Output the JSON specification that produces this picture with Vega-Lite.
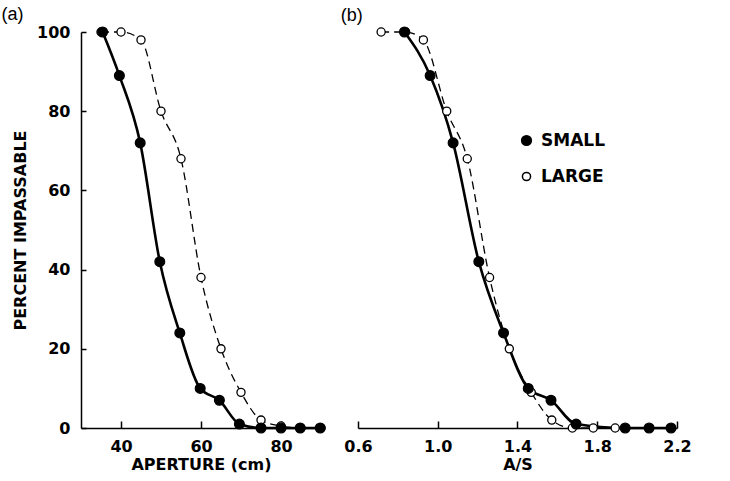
{
  "$schema": "https://vega.github.io/schema/vega-lite/v6.json",
  "background": "white",
  "padding": {"left": 1, "top": 6, "right": 5, "bottom": 5},
  "config": {
    "view": {"stroke": null},
    "font": "DejaVu Sans",
    "axis": {
      "domainColor": "black", "domainWidth": 1.5,
      "tickColor": "black", "tickWidth": 1.5, "tickSize": 6,
      "labelColor": "black", "labelFontSize": 16, "labelFont": "DejaVu Sans", "labelFontWeight": "bold",
      "titleFont": "DejaVu Sans", "titleFontSize": 16, "titleFontWeight": "bold", "titleColor": "black",
      "grid": false, "labelPadding": 10, "labelFlush": false
    },
    "title": {"font": "Liberation Sans", "fontSize": 18, "fontWeight": "normal", "anchor": "start", "color": "black"}
  },
  "datasets": {
    "a": [
      {"aperture": 35, "pct": 100, "size": "LARGE"},
      {"aperture": 40, "pct": 100, "size": "LARGE"},
      {"aperture": 45, "pct": 98, "size": "LARGE"},
      {"aperture": 50, "pct": 80, "size": "LARGE"},
      {"aperture": 55, "pct": 68, "size": "LARGE"},
      {"aperture": 60, "pct": 38, "size": "LARGE"},
      {"aperture": 65, "pct": 20, "size": "LARGE"},
      {"aperture": 70, "pct": 9, "size": "LARGE"},
      {"aperture": 75, "pct": 2, "size": "LARGE"},
      {"aperture": 80, "pct": 0.5, "size": "LARGE"},
      {"aperture": 85, "pct": 0, "size": "LARGE"},
      {"aperture": 90, "pct": 0, "size": "LARGE"},
      {"aperture": 35.4, "pct": 100, "size": "SMALL"},
      {"aperture": 39.6, "pct": 89, "size": "SMALL"},
      {"aperture": 44.8, "pct": 72, "size": "SMALL"},
      {"aperture": 49.7, "pct": 42, "size": "SMALL"},
      {"aperture": 54.7, "pct": 24, "size": "SMALL"},
      {"aperture": 59.8, "pct": 10, "size": "SMALL"},
      {"aperture": 64.6, "pct": 7, "size": "SMALL"},
      {"aperture": 69.6, "pct": 1, "size": "SMALL"},
      {"aperture": 75, "pct": 0, "size": "SMALL"},
      {"aperture": 80, "pct": 0, "size": "SMALL"},
      {"aperture": 84.8, "pct": 0, "size": "SMALL"},
      {"aperture": 89.8, "pct": 0, "size": "SMALL"}
    ],
    "b": [
      {"ratio": 0.716, "pct": 100, "size": "LARGE"},
      {"ratio": 0.839, "pct": 100, "size": "LARGE"},
      {"ratio": 0.928, "pct": 98, "size": "LARGE"},
      {"ratio": 1.045, "pct": 80, "size": "LARGE"},
      {"ratio": 1.148, "pct": 68, "size": "LARGE"},
      {"ratio": 1.26, "pct": 38, "size": "LARGE"},
      {"ratio": 1.359, "pct": 20, "size": "LARGE"},
      {"ratio": 1.469, "pct": 9, "size": "LARGE"},
      {"ratio": 1.572, "pct": 2, "size": "LARGE"},
      {"ratio": 1.675, "pct": 0, "size": "LARGE"},
      {"ratio": 1.78, "pct": 0, "size": "LARGE"},
      {"ratio": 1.89, "pct": 0, "size": "LARGE"},
      {"ratio": 0.833, "pct": 100, "size": "SMALL"},
      {"ratio": 0.962, "pct": 89, "size": "SMALL"},
      {"ratio": 1.077, "pct": 72, "size": "SMALL"},
      {"ratio": 1.206, "pct": 42, "size": "SMALL"},
      {"ratio": 1.33, "pct": 24, "size": "SMALL"},
      {"ratio": 1.454, "pct": 10, "size": "SMALL"},
      {"ratio": 1.568, "pct": 7, "size": "SMALL"},
      {"ratio": 1.694, "pct": 1, "size": "SMALL"},
      {"ratio": 1.94, "pct": 0, "size": "SMALL"},
      {"ratio": 2.06, "pct": 0, "size": "SMALL"},
      {"ratio": 2.17, "pct": 0, "size": "SMALL"}
    ]
  },
  "spacing": 12,
  "resolve": {"legend": {"fill": "independent", "size": "independent"}, "scale": {"fill": "independent", "size": "independent"}},
  "hconcat": [
    {
      "width": 240,
      "height": 396,
      "title": {"text": "(a)", "dx": -11, "offset": 0},
      "data": {"name": "a"},
      "resolve": {"axis": {"x": "independent", "y": "independent"}},
      "layer": [
        {"transform": [{"filter": "datum.size === 'LARGE'"}],
         "mark": {"type": "line", "interpolate": "monotone", "color": "black", "strokeWidth": 1.3, "strokeDash": [8, 5]},
         "encoding": {
           "x": {"field": "aperture", "type": "quantitative", "scale": {"domain": [30, 90], "nice": false, "zero": false},
                 "axis": {"values": [40, 60, 80], "title": "APERTURE (cm)", "ticks": false, "labelPadding": 10, "titlePadding": 2}},
           "y": {"field": "pct", "type": "quantitative", "scale": {"domain": [0, 100], "nice": false},
                 "axis": {"values": [0, 20, 40, 60, 80, 100], "title": "PERCENT IMPASSABLE", "ticks": false, "labelPadding": 11, "titlePadding": 8}}
         }},
        {"transform": [{"filter": "datum.size === 'SMALL'"}],
         "mark": {"type": "line", "interpolate": "monotone", "color": "black", "strokeWidth": 2.6},
         "encoding": {
           "x": {"field": "aperture", "type": "quantitative",
                 "axis": {"orient": "top", "offset": -396, "values": [40, 60, 80], "labels": false, "domain": false, "title": null, "ticks": true, "tickSize": 7}},
           "y": {"field": "pct", "type": "quantitative",
                 "axis": {"orient": "right", "offset": -240, "values": [0, 20, 40, 60, 80, 100], "labels": false, "domain": false, "title": null, "ticks": true, "tickSize": 5}}
         }},
        {"mark": {"type": "circle", "stroke": "black", "strokeWidth": 1.3, "opacity": 1},
         "encoding": {
           "x": {"field": "aperture", "type": "quantitative", "axis": null},
           "y": {"field": "pct", "type": "quantitative", "axis": null},
           "fill": {"field": "size", "type": "nominal", "scale": {"domain": ["SMALL", "LARGE"], "range": ["black", "white"]}, "legend": null},
           "size": {"field": "size", "type": "ordinal", "scale": {"domain": ["SMALL", "LARGE"], "range": [95, 66]}, "legend": null}
         }}
      ]
    },
    {
      "width": 319,
      "height": 396,
      "title": {"text": "(b)", "dx": -3, "offset": 0},
      "data": {"name": "b"},
      "resolve": {"axis": {"x": "independent"}},
      "layer": [
        {"transform": [{"filter": "datum.size === 'LARGE'"}],
         "mark": {"type": "line", "interpolate": "monotone", "color": "black", "strokeWidth": 1.3, "strokeDash": [8, 5]},
         "encoding": {
           "x": {"field": "ratio", "type": "quantitative", "scale": {"domain": [0.6, 2.2], "nice": false, "zero": false},
                 "axis": {"values": [0.6, 1.0, 1.4, 1.8, 2.2], "format": ".1f", "title": "A/S", "ticks": false, "labelPadding": 10, "titlePadding": 2}},
           "y": {"field": "pct", "type": "quantitative", "scale": {"domain": [0, 100], "nice": false}, "axis": null}
         }},
        {"transform": [{"filter": "datum.size === 'SMALL'"}],
         "mark": {"type": "line", "interpolate": "monotone", "color": "black", "strokeWidth": 2.6},
         "encoding": {
           "x": {"field": "ratio", "type": "quantitative",
                 "axis": {"orient": "top", "offset": -396, "values": [0.6, 1.0, 1.4, 1.8, 2.2], "labels": false, "domain": false, "title": null, "ticks": true, "tickSize": 7}},
           "y": {"field": "pct", "type": "quantitative", "axis": null}
         }},
        {"mark": {"type": "circle", "stroke": "black", "strokeWidth": 1.3, "opacity": 1},
         "encoding": {
           "x": {"field": "ratio", "type": "quantitative", "axis": null},
           "y": {"field": "pct", "type": "quantitative", "axis": null},
           "fill": {"field": "size", "type": "nominal", "scale": {"domain": ["SMALL", "LARGE"], "range": ["black", "white"]},
                    "legend": {"orient": "none", "legendX": 160, "legendY": 100, "title": null, "labelFontSize": 17, "labelFontWeight": "bold",
                               "labelFont": "DejaVu Sans", "labelColor": "black", "symbolType": "circle", "rowPadding": 18, "labelOffset": 6,
                               "encode": {"symbols": {"update": {"stroke": {"value": "black"}, "strokeWidth": {"value": 1.3}}}}}},
           "size": {"field": "size", "type": "ordinal", "scale": {"domain": ["SMALL", "LARGE"], "range": [95, 66]},
                    "legend": {"orient": "none", "legendX": 160, "legendY": 100, "title": null, "labelFontSize": 17, "labelFontWeight": "bold",
                               "labelFont": "DejaVu Sans", "labelColor": "black", "symbolType": "circle", "rowPadding": 18, "labelOffset": 6,
                               "encode": {"symbols": {"update": {"stroke": {"value": "black"}, "strokeWidth": {"value": 1.3}}}}}}
         }}
      ]
    }
  ]
}
